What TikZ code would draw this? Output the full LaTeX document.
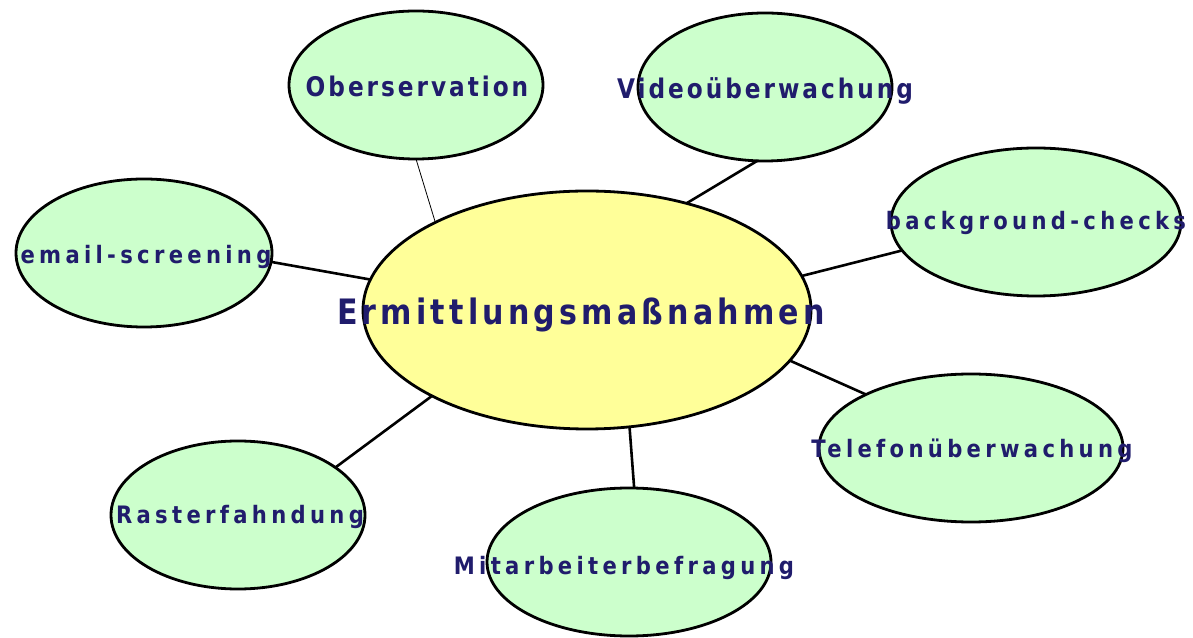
\documentclass[tikz,border=0pt]{standalone}
\usepackage{fontspec}
\newfontfamily\smallfont{DejaVu Sans}[FakeStretch=0.88,LetterSpace=18]
\newfontfamily\bigfont{DejaVu Sans}[FakeStretch=0.86,LetterSpace=11]
\newfontfamily\ttlfont{DejaVu Sans}[FakeStretch=0.86,LetterSpace=12]
\definecolor{navy}{RGB}{32,28,108}
\definecolor{bubgreen}{RGB}{204,255,204}
\definecolor{bubyellow}{RGB}{255,255,153}
\tikzset{
  bub/.style={ellipse, draw=black, line width=2.8pt, fill=bubgreen, inner sep=0pt, outer sep=0pt, minimum height=148pt},
  hub/.style={ellipse, draw=black, line width=2.8pt, fill=bubyellow, inner sep=0pt, outer sep=0pt, minimum width=448pt, minimum height=238pt},
  lbl/.style={anchor=base, text=navy, inner sep=0pt, font=\smallfont\bfseries\fontsize{24}{28}\selectfont},
  biglbl/.style={anchor=base, text=navy, inner sep=0pt, font=\bigfont\bfseries\fontsize{27}{32}\selectfont},
  ttl/.style={anchor=base, text=navy, inner sep=0pt, font=\ttlfont\bfseries\fontsize{35}{42}\selectfont},
  conn/.style={line width=2.6pt, draw=black},
  thinconn/.style={line width=0.8pt, draw=black}
}
\usetikzlibrary{shapes.geometric}
\begin{document}
\begin{tikzpicture}[x=1pt,y=1pt]
\useasboundingbox (0,0) rectangle (1193,637);
% hub and bubbles
\node[hub] (C) at (587,327) {};
\node[bub, minimum width=254pt] (ob) at (416,552) {};
\node[bub, minimum width=254pt] (vid) at (765,550) {};
\node[bub, minimum width=290pt] (bg) at (1036,415) {};
\node[bub, minimum width=256pt] (em) at (144,384) {};
\node[bub, minimum width=304pt] (tel) at (971,189) {};
\node[bub, minimum width=254pt] (ras) at (238,122) {};
\node[bub, minimum width=284pt] (mit) at (629,75) {};
% connectors
\draw[thinconn] (ob.270) -- (C.150.9);
\draw[conn] (vid.264) -- (C.47);
\draw[conn] (bg.192) -- (C.9.5);
\draw[conn] (em.356.5) -- (C.172);
\draw[conn] (tel.153) -- (C.346.7);
\draw[conn] (ras.26) -- (C.209.6);
\draw[conn] (mit.86) -- (C.290);
% labels
\node[ttl] (tC) at (581,312) {Ermittlungsmaßnahmen};
\node[biglbl] (tob) at (417,540) {Oberservation};
\node[biglbl] (tvid) at (765,538) {Videoüberwachung};
\node[lbl] (tbg) at (1036,407) {background-checks};
\node[lbl] (tem) at (146,373) {email-screening};
\node[lbl] (ttel) at (972,179) {Telefonüberwachung};
\node[lbl] (tras) at (240,113) {Rasterfahndung};
\node[lbl] (tmit) at (624,63) {Mitarbeiterbefragung};
\end{tikzpicture}
\end{document}
